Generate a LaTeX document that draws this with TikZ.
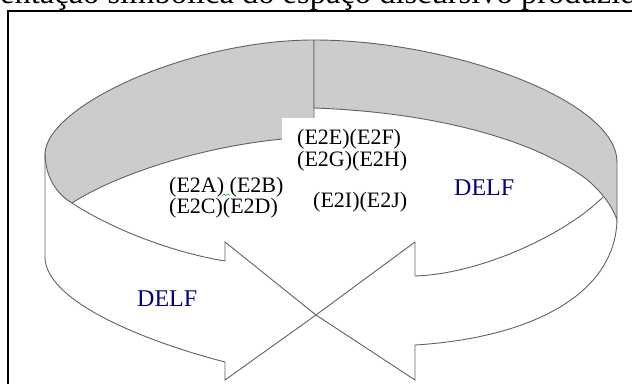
\documentclass[tikz,border=0pt]{standalone}
\usepackage{fontspec}
\setmainfont{Liberation Serif}
\definecolor{navyblue}{RGB}{0,0,128}
\tikzset{
  edge/.style={draw=black!62, line width=0.9pt, line join=miter},
  band/.style={edge, fill=gray!40},
  lbl/.style={font=\fontsize{22}{26}\selectfont, anchor=base west, inner sep=0pt, text=black},
  delf/.style={font=\fontsize{24}{28}\selectfont, anchor=base west, inner sep=0pt, text=navyblue},
  captionstyle/.style={font=\fontsize{32.5}{36}\selectfont, anchor=base west, inner sep=0pt},
}
\begin{document}
\begin{tikzpicture}[x=1pt,y=-1pt]
\useasboundingbox (0,0) rectangle (632,383);
\clip (0,0) rectangle (632,383);
\fill[white] (0,0) rectangle (632,383);

% frame
\draw[line width=2pt] (8.3,400) -- (8.3,10.7) -- (650,10.7);

% caption (cut off at the top)
\node[captionstyle] (cap) at (0,3.5) {\llap{Repres}entação simbólica do espaço discursivo produzido};

% key points
\coordinate (top) at (314,40);
\coordinate (lout) at (45,153);
\coordinate (lin) at (72,203);
\coordinate (cinL) at (314,137);
\coordinate (rout) at (617,162);
\coordinate (rlow) at (617,220);
\coordinate (rin) at (603,197);
\coordinate (rmid) at (585,178);
\coordinate (cinR) at (314,108);
\coordinate (tip) at (316,315);

% left grey band
\path[band] (top) .. controls (190,40) and (48,105) .. (lout)
  .. controls (45,178) and (58,195) .. (lin)
  .. controls (120,172) and (220,140) .. (cinL) -- cycle;

% right grey band
\path[band] (top) .. controls (450,40) and (617,100) .. (rout)
  -- (rlow)
  .. controls (612,205) and (600,190) .. (rmid)
  .. controls (530,138) and (430,112) .. (cinR) -- cycle;

% white text box behind the upper labels
\fill[white] (282,118) rectangle (318,172);

% left arrow
\draw[edge] (lin) .. controls (110,228) and (170,252) .. (225,261)
  -- (225,242) -- (tip) -- (225,380) -- (225,362)
  .. controls (140,340) and (45,300) .. (45,257)
  -- (lout);

% right arrow
\draw[edge] (rin) .. controls (565,235) and (480,274) .. (415,276)
  -- (415,242) -- (tip) -- (415,380) -- (415,345)
  .. controls (530,338) and (615,295) .. (rlow);

% labels
\node[lbl] (e2ef) at (297,144) {(E2E)(E2F)};
\node[lbl] (e2gh) at (297,166) {(E2G)(E2H)};
\node[lbl] (e2ij) at (313,207) {(E2I)(E2J)};
\node[lbl] (e2ab) at (169,192) {(E2A) (E2B)};
\node[lbl] (e2cd) at (169,213.5) {(E2C)(E2D)};
\draw[green!60!black, line width=0.5pt] (222,195.5) -- (224,194) -- (226,195.5) -- (228,194) -- (230,195.5);
\node[delf] (delfr) at (454,195) {DELF};
\node[delf] (delfl) at (137,306) {DELF};
\end{tikzpicture}
\end{document}
